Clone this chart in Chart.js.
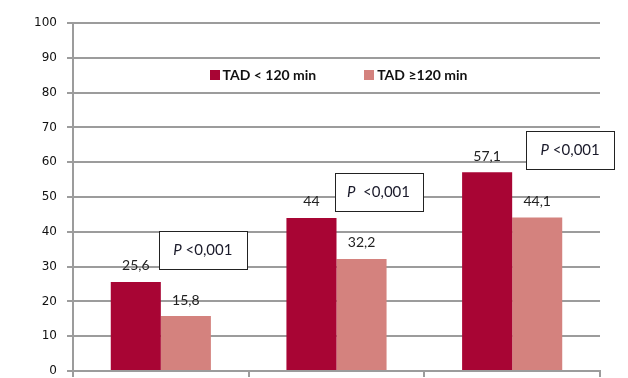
<!DOCTYPE html>
<html>
<head>
<meta charset="utf-8">
<script src="https://cdn.jsdelivr.net/npm/chart.js@4/dist/chart.umd.min.js"></script>
<style>
  html, body { margin: 0; padding: 0; background: #fff; }
  #wrap { width: 628px; height: 378px; }
</style>
</head>
<body>
<div id="wrap"><canvas id="chart" width="628" height="378"></canvas></div>
<script>
// Données
const categories = ['Groupe 1', 'Groupe 2', 'Groupe 3'];
const tadUnder120 = [25.6, 44, 57.1];
const tadOver120 = [15.8, 32.2, 44.1];
const pValues = ['<0,001', '<0,001', '<0,001'];
const seriesLabels = ['TAD < 120 min', 'TAD \u2265120 min'];

// Couleurs
const DARK = '#a80534';
const LIGHT = '#d4827e';
const GRID = '#9c9c9c';

// Placement des encadrés P (décalage en px par rapport au centre de la catégorie, y en unités)
const pBoxPlacement = [
    { dx: 42, y: 34.8, gap: ' ' },
    { dx: 42, y: 51.4, gap: '  ' },
    { dx: 58, y: 63.5, gap: ' ' }
];

function formatValue(v) {
    return String(v).replace('.', ',');
}

// Valeurs au-dessus des barres
const valueLabels = {
    id: 'valueLabels',
    afterDatasetsDraw(chart) {
        const ctx = chart.ctx;
        ctx.save();
        ctx.font = '14px Lato';
        ctx.fillStyle = '#222';
        ctx.textAlign = 'center';
        ctx.textBaseline = 'bottom';
        chart.data.datasets.forEach((ds, i) => {
            chart.getDatasetMeta(i).data.forEach((bar, j) => {
                ctx.fillText(formatValue(ds.data[j]), bar.x, bar.y - 9);
            });
        });
        ctx.restore();
    }
};

// Légende dessinée dans la zone du graphique
const innerLegend = {
    id: 'innerLegend',
    afterDraw(chart) {
        const ctx = chart.ctx;
        const area = chart.chartArea;
        const y = chart.scales.y.getPixelForValue(85);
        ctx.save();
        ctx.font = 'bold 14px Lato';
        ctx.textBaseline = 'middle';
        const box = 10, pad = 3, gap = 48;
        const items = chart.data.datasets.map(ds => ({
            text: ds.label, color: ds.backgroundColor, w: ctx.measureText(ds.label).width
        }));
        const total = items.reduce((s, it) => s + box + pad + it.w, 0) + gap * (items.length - 1);
        let x = (area.left + area.right) / 2 - total / 2 + 2;
        items.forEach(it => {
            ctx.fillStyle = it.color;
            ctx.fillRect(Math.round(x), Math.round(y - box / 2), box, box);
            ctx.fillStyle = '#111';
            ctx.fillText(it.text, x + box + pad, y + 0.5);
            x += box + pad + it.w + gap;
        });
        ctx.restore();
    }
};

// Encadrés P
const pBoxes = {
    id: 'pBoxes',
    afterDraw(chart) {
        const ctx = chart.ctx;
        const xs = chart.scales.x, ys = chart.scales.y;
        const w = 88, h = 38;
        ctx.save();
        pValues.forEach((p, i) => {
            const pl = pBoxPlacement[i];
            const cx = xs.getPixelForValue(i) + pl.dx;
            const cy = ys.getPixelForValue(pl.y);
            const left = Math.round(cx - w / 2) + 0.5;
            const top = Math.round(cy - h / 2) + 0.5;
            ctx.fillStyle = '#fff';
            ctx.fillRect(left, top, w, h);
            ctx.strokeStyle = '#222';
            ctx.lineWidth = 1;
            ctx.strokeRect(left, top, w, h);

            ctx.textBaseline = 'middle';
            ctx.fillStyle = '#1a1a2a';
            ctx.font = 'italic 15px Lato';
            const pw = ctx.measureText('P').width;
            ctx.font = '15px Lato';
            const rest = pl.gap + p;
            const rw = ctx.measureText(rest).width;
            let tx = cx - (pw + rw) / 2;
            ctx.font = 'italic 15px Lato';
            ctx.textAlign = 'left';
            ctx.fillText('P', tx, cy);
            ctx.font = '15px Lato';
            ctx.fillText(rest, tx + pw, cy);
        });
        ctx.restore();
    }
};

new Chart(document.getElementById('chart').getContext('2d'), {
    type: 'bar',
    data: {
        labels: categories,
        datasets: [
            { label: seriesLabels[0], data: tadUnder120, backgroundColor: DARK },
            { label: seriesLabels[1], data: tadOver120, backgroundColor: LIGHT }
        ]
    },
    options: {
        responsive: false,
        animation: false,
        devicePixelRatio: 1,
        layout: { padding: { top: 23, right: 28, left: 0, bottom: 0 } },
        datasets: {
            bar: { categoryPercentage: 0.57, barPercentage: 1.0 }
        },
        plugins: {
            legend: { display: false },
            tooltip: { enabled: false }
        },
        scales: {
            x: {
                ticks: { display: false },
                grid: { offset: true, drawOnChartArea: false, drawTicks: true, tickLength: 6, color: GRID, lineWidth: 2 },
                border: { color: GRID, width: 2 },
                afterFit(scale) {
                    scale.height = 7;
                    scale.paddingLeft = 0; scale.paddingRight = 0;
                }
            },
            y: {
                min: 0,
                max: 100,
                ticks: { stepSize: 10, padding: 10, color: '#111', font: { family: 'DejaVu Sans', size: 12 } },
                grid: { color: GRID, lineWidth: 2, tickLength: 6 },
                border: { color: GRID, width: 2 },
                afterFit(scale) {
                    scale.width = 73;
                    scale.paddingTop = 0; scale.paddingBottom = 0;
                }
            }
        }
    },
    plugins: [valueLabels, innerLegend, pBoxes]
});
</script>
</body>
</html>
